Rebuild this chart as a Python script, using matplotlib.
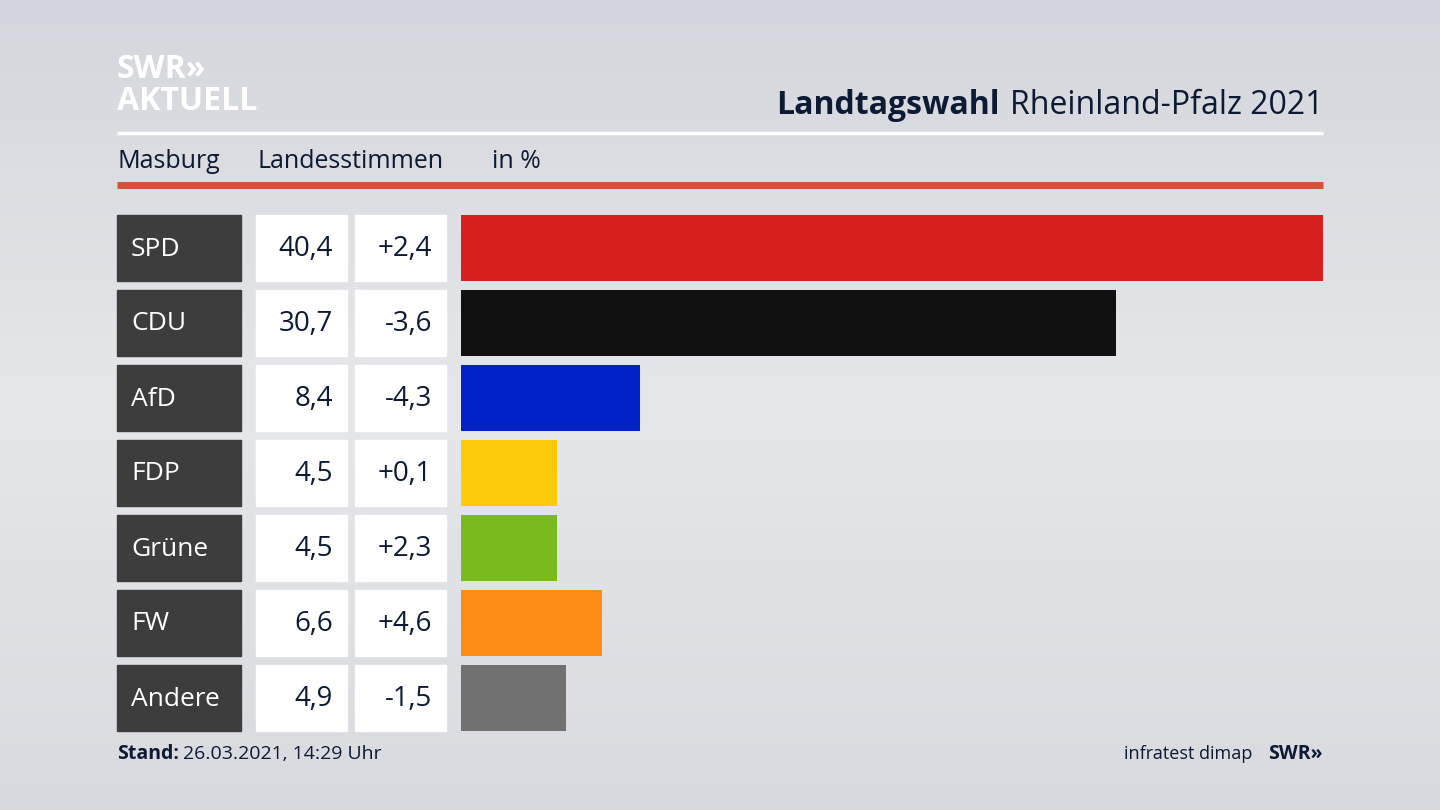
import numpy as np
import matplotlib.pyplot as plt
from matplotlib.patches import Rectangle

plt.rcParams["font.family"] = "Open Sans"

parties = ["SPD", "CDU", "AfD", "FDP", "Grüne", "FW", "Andere"]
shares = [40.4, 30.7, 8.4, 4.5, 4.5, 6.6, 4.9]
changes = [2.4, -3.6, -4.3, 0.1, 2.3, 4.6, -1.5]
colors = ["#d71f1f", "#111111", "#0022c8", "#fecb0a", "#79bb1f", "#fd8c15", "#717171"]

W, H = 1440, 810
fig = plt.figure(figsize=(14.4, 8.1), dpi=100)

# background in pixel coordinates
bg = fig.add_axes([0, 0, 1, 1])
bg.set_xlim(0, W)
bg.set_ylim(H, 0)
bg.axis("off")
grad = np.linspace(0, 1, 256).reshape(-1, 1)
bg.imshow(grad, extent=(0, W, H, 0), cmap=plt.matplotlib.colors.LinearSegmentedColormap.from_list(
    "bg", ["#d3d6dc", "#e6e7ea", "#d8dadf"]), aspect="auto", zorder=0)

navy = "#0d1a33"
# logo
bg.text(117, 70, "SWR»", fontsize=23, fontweight="bold", color="white", va="center")
bg.text(117, 102, "AKTUELL", fontsize=23, fontweight="bold", color="white", va="center")

bg.text(1323, 106, "Rheinland-Pfalz 2021", fontsize=23, color=navy, ha="right", va="center")
bg.text(1000, 106, "Landtagswahl", fontsize=23, fontweight="bold", color=navy, ha="right", va="center")
bg.plot([117, 1323], [133, 133], color="white", lw=2.5, solid_capstyle="butt")
bg.text(117, 161, "Masburg", fontsize=18, color=navy, va="center")
bg.text(258, 161, "Landesstimmen", fontsize=18, color=navy, va="center")
bg.text(492, 161, "in %", fontsize=18, color=navy, va="center")
bg.plot([117, 1323], [185, 185], color="#d2523a", lw=5, solid_capstyle="butt")

for i, (p, s, c) in enumerate(zip(parties, shares, changes)):
    top = 215 + 75 * i
    bg.add_patch(Rectangle((117, top), 124, 66, color="#3d3d3d", zorder=2))
    bg.add_patch(Rectangle((256, top), 91, 66, color="white", zorder=2))
    bg.add_patch(Rectangle((355, top), 91, 66, color="white", zorder=2))
    cy = top + 34
    bg.text(131, cy, p, fontsize=19, color="white", va="center", zorder=3)
    bg.text(333, cy, f"{s:.1f}".replace(".", ","), fontsize=20, color=navy,
            ha="right", va="center", zorder=3)
    bg.text(432, cy, f"{c:+.1f}".replace(".", ","), fontsize=20, color=navy,
            ha="right", va="center", zorder=3)

bg.text(117, 754, "Stand:", fontsize=14, fontweight="bold", color=navy, va="center")
bg.text(183, 754, "26.03.2021, 14:29 Uhr", fontsize=14, color=navy, va="center")
bg.text(1252, 754, "infratest dimap", fontsize=13, color=navy, ha="right", va="center")
bg.text(1323, 754, "SWR»", fontsize=14, fontweight="bold", color=navy, ha="right", va="center")

# bars
ax = fig.add_axes([461 / W, 1 - 735.5 / H, (1323 - 461) / W, 525 / H])
ax.barh(range(len(parties)), shares, height=0.88, color=colors)
ax.set_xlim(0, max(shares))
ax.set_ylim(len(parties) - 0.5, -0.5)
ax.axis("off")

fig.savefig("out.png", dpi=100)
